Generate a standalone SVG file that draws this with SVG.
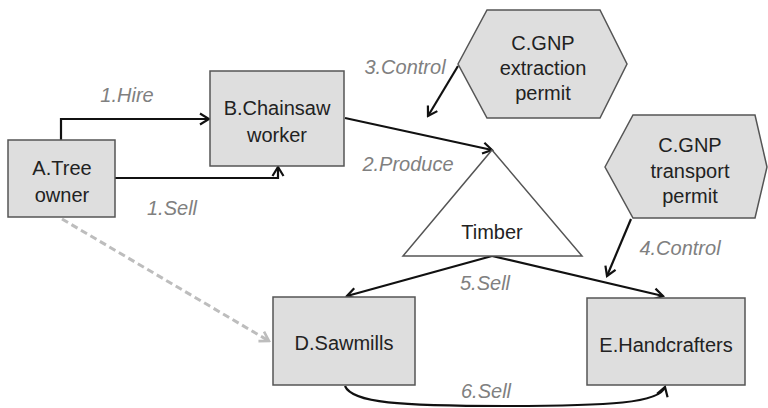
<svg xmlns="http://www.w3.org/2000/svg" width="768" height="408" viewBox="0 0 768 408">
<style>
.node{fill:#dedede;stroke:#555;stroke-width:1.5}
.tri{fill:#fff;stroke:#555;stroke-width:1.5}
.nt{font-family:"Liberation Sans",Arial,sans-serif;font-size:20px;fill:#222;text-anchor:middle}
.lb{font-family:"Liberation Sans",Arial,sans-serif;font-size:20px;font-style:italic;fill:#808080;text-anchor:middle}
.c{fill:none;stroke:#111;stroke-width:2.2}
.d{fill:none;stroke:#bdbdbd;stroke-width:3;stroke-dasharray:7 4}
</style>
<defs>
<marker id="ah" markerUnits="userSpaceOnUse" markerWidth="14" markerHeight="14" viewBox="0 0 14 14" refX="12" refY="7" orient="auto">
<path d="M3,1.5 L12,7 L3,12.5" fill="none" stroke="#111" stroke-width="2.2"/>
</marker>
<marker id="ahg" markerUnits="userSpaceOnUse" markerWidth="14" markerHeight="14" viewBox="0 0 14 14" refX="12" refY="7" orient="auto">
<path d="M3,1.5 L12,7 L3,12.5" fill="none" stroke="#bdbdbd" stroke-width="2.6"/>
</marker>
</defs>
<rect width="768" height="408" fill="#fff"/>
<g id="connectors">
<path class="c" d="M61,140 V119 H209" marker-end="url(#ah)"/>
<path class="c" d="M115,178 H278 V167" marker-end="url(#ah)"/>
<path class="c" d="M345,118 L492,150" marker-end="url(#ah)"/>
<path class="c" d="M458,66 L428,116" marker-end="url(#ah)"/>
<path class="c" d="M631,219 L607,276" marker-end="url(#ah)"/>
<path class="c" d="M492,256 L347,296" marker-end="url(#ah)"/>
<path class="c" d="M492,256 L663,296" marker-end="url(#ah)"/>
<path class="d" d="M62,219 L269,341" marker-end="url(#ahg)"/>
<path class="c" d="M345,386 C352,403 400,406 505,406 C610,406 660,403 665,387" marker-end="url(#ah)"/>
<text class="lb" x="127" y="102">1.Hire</text>
<text class="lb" x="172" y="215">1.Sell</text>
<text class="lb" x="405" y="74">3.Control</text>
<text class="lb" x="408" y="171">2.Produce</text>
<text class="lb" x="680" y="255">4.Control</text>
<text class="lb" x="485" y="290">5.Sell</text>
<text class="lb" x="486" y="398">6.Sell</text>
</g>
<g id="A">
<rect class="node" x="8" y="140" width="107" height="77"/>
<text class="nt" x="62" y="175">A.Tree</text>
<text class="nt" x="62" y="202">owner</text>
</g>
<g id="B">
<rect class="node" x="210" y="71" width="134" height="95"/>
<text class="nt" x="277" y="115">B.Chainsaw</text>
<text class="nt" x="277" y="142">worker</text>
</g>
<g id="C1">
<polygon class="node" points="458,64 487,10 600,10 627,64 600,118 487,118"/>
<text class="nt" x="543" y="50">C.GNP</text>
<text class="nt" x="543" y="75">extraction</text>
<text class="nt" x="543" y="100">permit</text>
</g>
<g id="C2">
<polygon class="node" points="605,167 633,115 755,115 767,167 755,218 633,218"/>
<text class="nt" x="690" y="152">C.GNP</text>
<text class="nt" x="690" y="178">transport</text>
<text class="nt" x="690" y="203">permit</text>
</g>
<g id="Timber">
<polygon class="tri" points="492,150 582,256 403,256"/>
<text class="nt" x="492" y="239">Timber</text>
</g>
<g id="D">
<rect class="node" x="273" y="297" width="142" height="88"/>
<text class="nt" x="344" y="350">D.Sawmills</text>
</g>
<g id="E">
<rect class="node" x="587" y="298" width="158" height="87"/>
<text class="nt" x="666" y="352">E.Handcrafters</text>
</g>
</svg>
